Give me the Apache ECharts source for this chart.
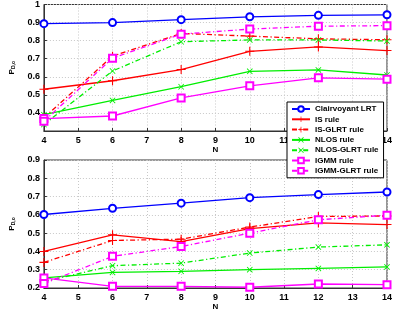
<!DOCTYPE html>
<html><head><meta charset="utf-8">
<script src="https://cdn.jsdelivr.net/npm/echarts@6/dist/echarts.min.js"></script>
<style>html,body{margin:0;padding:0;background:#fff}#c{width:395px;height:314px}</style>
</head><body><div id="c"></div>
<script>
const N = [4, 6, 8, 10, 12, 14];
const names = ['Clairvoyant LRT','IS rule','IS-GLRT rule','NLOS rule','NLOS-GLRT rule','IGMM rule','IGMM-GLRT rule'];
// top panel
const topClair = [0.894, 0.900, 0.916, 0.932, 0.940, 0.943];
const topIS = [0.531, 0.578, 0.640, 0.741, 0.765, 0.745];
const topISG = [0.373, 0.714, 0.840, 0.825, 0.810, 0.805];
const topNLOS = [0.390, 0.469, 0.545, 0.630, 0.638, 0.610];
const topNLOSG = [0.336, 0.632, 0.794, 0.804, 0.804, 0.798];
const topIGMM = [0.369, 0.383, 0.483, 0.550, 0.594, 0.587];
const topIGMMG = [0.354, 0.703, 0.836, 0.864, 0.880, 0.883];
// bottom panel
const botClair = [0.602, 0.636, 0.664, 0.694, 0.711, 0.725];
const botIS = [0.400, 0.491, 0.454, 0.525, 0.556, 0.547];
const botISG = [0.340, 0.460, 0.467, 0.533, 0.591, 0.594];
const botNLOS = [0.255, 0.285, 0.291, 0.300, 0.307, 0.315];
const botNLOSG = [0.235, 0.322, 0.336, 0.391, 0.424, 0.436];
const botIGMM = [0.255, 0.209, 0.209, 0.204, 0.222, 0.218];
const botIGMMG = [0.224, 0.373, 0.427, 0.500, 0.573, 0.598];

const BLUE='#0000ff', RED='#ff0000', GREEN='#00ee00', MAG='#ff00ff';
const PLUS='path://M4.4,0H5.6V4.4H10V5.6H5.6V10H4.4V5.6H0V4.4H4.4Z';
const CROSS='path://M1,0L5,4L9,0L10,1L6,5L10,9L9,10L5,6L1,10L0,9L4,5L0,1Z';
const DASHDOT=[5,2.5,1.2,2.5];
const styles = [
  {color:BLUE, type:'solid', symbol:'emptyCircle', size:7},
  {color:RED, type:'solid', symbol:PLUS, size:9},
  {color:RED, type:DASHDOT, symbol:PLUS, size:9},
  {color:GREEN, type:'solid', symbol:CROSS, size:6},
  {color:GREEN, type:DASHDOT, symbol:CROSS, size:6},
  {color:MAG, type:'solid', symbol:'emptyRect', size:7},
  {color:MAG, type:DASHDOT, symbol:'emptyRect', size:7}
];
const topData=[topClair,topIS,topISG,topNLOS,topNLOSG,topIGMM,topIGMMG];
const botData=[botClair,botIS,botISG,botNLOS,botNLOSG,botIGMM,botIGMMG];

function mk(data, idx){
  return data.map((d,i)=>{
    const isPath=styles[i].symbol.startsWith('path');
    return {
    name:names[i], type:'line', xAxisIndex:idx, yAxisIndex:idx,
    data:N.map((n,j)=>[n,d[j]]),
    symbol:styles[i].symbol, symbolSize:styles[i].size, showSymbol:true,
    lineStyle:{color:styles[i].color, width:1.3, type:styles[i].type},
    itemStyle:isPath?{color:styles[i].color, borderWidth:0}:{color:styles[i].color, borderWidth:1.3},
    color:styles[i].color, z:3};
  });
}
const font='Liberation Sans';
const lbl={fontFamily:font,fontSize:9,fontWeight:'bold',color:'#000'};
function xAx(idx){
  return {type:'value', gridIndex:idx, min:4, max:14, interval:1,
    axisLine:{lineStyle:{color:'#333'}}, axisTick:{inside:true,length:3,lineStyle:{color:'#333'}},
    axisLabel:Object.assign({margin:5},lbl),
    splitLine:{show:true,lineStyle:{color:'#c8c8c8',type:[1,2]}},
    name:'N', nameLocation:'middle', nameGap:13, nameTextStyle:Object.assign({},lbl,{fontSize:8})};
}
function yAx(idx,min,max,hideMin){
  return {type:'value', gridIndex:idx, min:min, max:max, interval:0.1,
    axisLine:{lineStyle:{color:'#333'}}, axisTick:{inside:true,length:3,lineStyle:{color:'#333'}},
    axisLabel:Object.assign({margin:4, formatter:v=>(hideMin&&Math.abs(v-min)<1e-6)?'':String(Math.round(v*10)/10)},lbl),
    splitLine:{show:true,lineStyle:{color:'#c8c8c8',type:[1,2]}},
    name:'P{s|D,o}', nameLocation:'middle', nameGap:19, nameRotate:90,
    nameTextStyle:Object.assign({},lbl,{fontSize:8,rich:{s:{fontFamily:font,fontSize:5,fontWeight:'bold',verticalAlign:'bottom',padding:[4,0,0,0]}}})};
}
const chart=echarts.init(document.getElementById('c'),null,{renderer:'canvas'});
chart.setOption({
  animation:false,
  backgroundColor:'#fff',
  grid:[
    {left:32,right:8,top:3,height:128,show:true,borderColor:'#333',borderWidth:1},
    {left:32,right:8,top:160,height:128,show:true,borderColor:'#333',borderWidth:1}
  ],
  xAxis:[xAx(0),xAx(1)],
  yAxis:[yAx(0,0.3,1,true),yAx(1,0.2,0.9,false)],
  legend:{data:names, orient:'vertical', left:287, top:102,
    itemWidth:18, itemHeight:7, itemGap:2.3, padding:[3,5,3,4],
    backgroundColor:'#fff', borderColor:'#000', borderWidth:1, z:10,
    textStyle:{fontFamily:font,fontSize:8,fontWeight:'bold',color:'#000',lineHeight:8}},
  series:[...mk(topData,0),...mk(botData,1)]
});
</script></body></html>
